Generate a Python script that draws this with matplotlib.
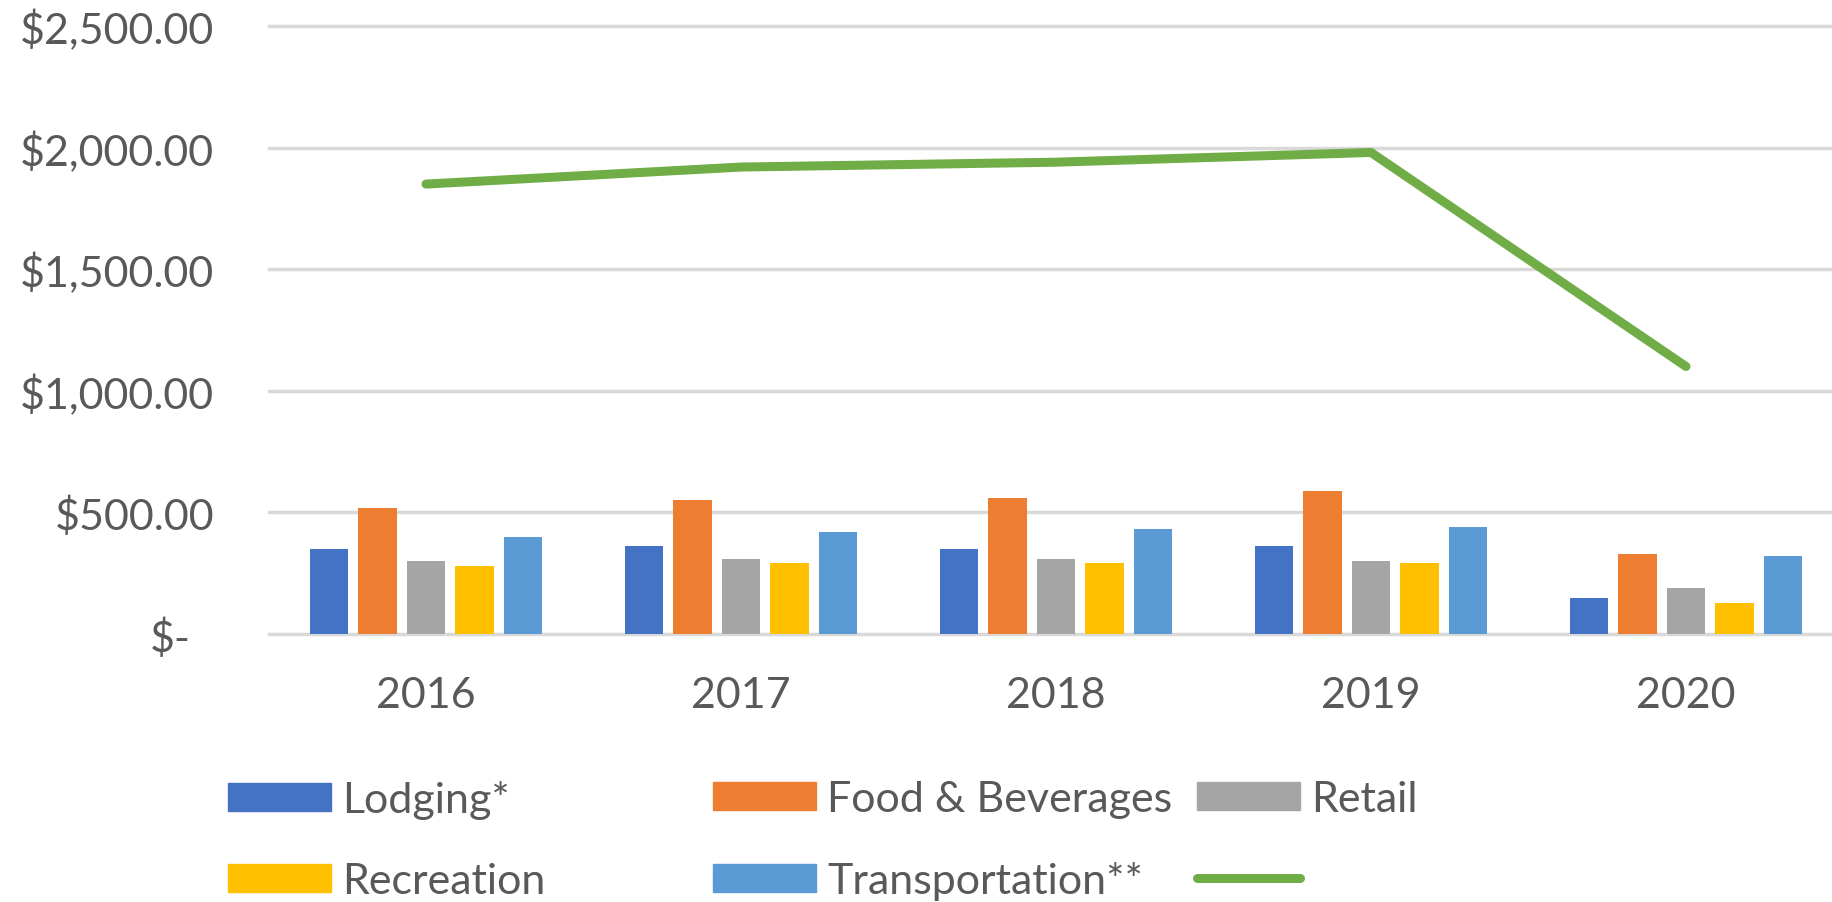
import matplotlib

matplotlib.use("Agg")
import matplotlib.pyplot as plt
import numpy as np
from matplotlib.lines import Line2D
from matplotlib.patches import Patch
from matplotlib.transforms import ScaledTranslation

plt.rcParams["font.family"] = ["Lato", "DejaVu Sans"]

years = ["2016", "2017", "2018", "2019", "2020"]
categories = ["Lodging*", "Food & Beverages", "Retail", "Recreation", "Transportation**"]
lodging = [350, 360, 350, 360, 150]
food = [520, 550, 560, 590, 330]
retail = [300, 310, 310, 300, 190]
recreation = [280, 290, 290, 290, 127]
transport = [400, 420, 430, 440, 320]
total = [1850, 1920, 1940, 1980, 1100]
y_ticks = [0, 500, 1000, 1500, 2000, 2500]
y_labels = ["$-", "$500.00", "$1,000.00", "$1,500.00", "$2,000.00", "$2,500.00"]

COLORS = ["#4472C4", "#ED7D31", "#A5A5A5", "#FFC000", "#5B9BD5"]
LINE_COLOR = "#70AD47"
TEXT = "#595959"
GRID = "#D9D9D9"
FS = 31

W, H = 1832, 903
fig = plt.figure(figsize=(W / 100, H / 100), dpi=100)
# axes box in pixels: x 268.5 .. 1843.5 (chart is cropped on the right), y 27 .. 635
ax = fig.add_axes([268.5 / W, (H - 635) / H, 1575 / W, 608 / H])

x = np.arange(len(years))
series = [lodging, food, retail, recreation, transport]
pitch, width = 0.154, 0.1225
for i, vals in enumerate(series):
    ax.bar(x + (i - 2) * pitch, vals, width, color=COLORS[i], zorder=2)

ax.plot(x, total, color=LINE_COLOR, lw=6.5, solid_capstyle="round", zorder=3)

ax.set_xlim(-0.5, 4.5)
ax.set_ylim(0, 2500)
ax.set_yticks(y_ticks)
ax.set_yticklabels(y_labels)
ax.set_xticks(x)
ax.set_xticklabels(years)
ax.tick_params(axis="both", length=0, labelsize=FS, labelcolor=TEXT)
ax.tick_params(axis="y", pad=39)
ax.tick_params(axis="x", pad=30)
ax.yaxis.grid(True, color=GRID, lw=2.5, zorder=0)
for gl in ax.get_ygridlines():
    gl.set_clip_on(False)
for s in ax.spines.values():
    s.set_visible(False)
ax.set_axisbelow(True)

# "$-" sits a bit further left (accounting format)
lbl0 = ax.get_yticklabels()[0]
lbl0.set_transform(lbl0.get_transform() + ScaledTranslation(-0.24, 0, fig.dpi_scale_trans))

# legend: three fixed-width columns like Excel
handles = [Patch(color=c) for c in COLORS]
line_h = Line2D([], [], color=LINE_COLOR, lw=6.5, solid_capstyle="round")
cols = [
    ([handles[0], handles[3]], [categories[0], categories[3]], 228),
    ([handles[1], handles[4]], [categories[1], categories[4]], 713),
    ([handles[2], line_h], [categories[2], ""], 1197),
]
for hs, ls, px in cols:
    fig.legend(hs, ls, loc="center left", bbox_to_anchor=(px / W, (H - 841) / H),
               frameon=False, fontsize=FS, labelcolor=TEXT, handlelength=2.4,
               handleheight=0.62, handletextpad=0.25, labelspacing=1.0,
               borderpad=0, borderaxespad=0)

fig.savefig("out.png", dpi=100)
